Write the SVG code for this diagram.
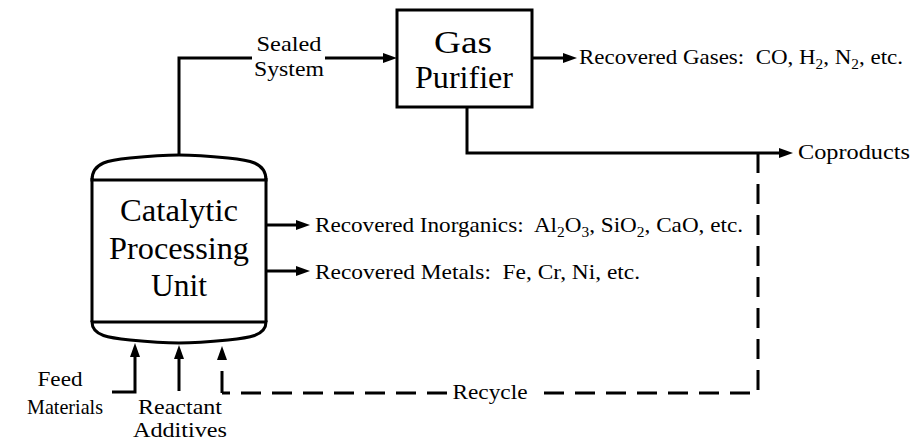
<svg xmlns="http://www.w3.org/2000/svg" width="912" height="442" viewBox="0 0 912 442">
<defs>
<style>
.ln{fill:none;stroke:#000;stroke-width:3}
.dash{fill:none;stroke:#000;stroke-width:3;stroke-dasharray:20 11}
.arr{marker-end:url(#ah)}
text{font-family:'Liberation Serif','DejaVu Serif','Times New Roman',serif;fill:#000}
.t{font-size:21px}
.big{font-size:31px;text-anchor:middle}
.sub{font-size:14px}
</style>
<marker id="ah" viewBox="0 0 14 10" refX="0" refY="5" markerWidth="14" markerHeight="10" markerUnits="userSpaceOnUse" orient="auto">
<path d="M0,0 L14,5 L0,10 z" fill="#000"/>
</marker>
</defs>
<rect width="912" height="442" fill="#fff"/>

<g id="connectors">
<path class="ln" d="M179,155 V58 H252"/>
<path class="ln arr" d="M325,58 H383"/>
<path class="ln arr" d="M532,58 H563"/>
<path class="ln arr" d="M467,107 V153 H779"/>
<path class="ln arr" d="M266,225 H296"/>
<path class="ln arr" d="M266,271 H296"/>
<path class="ln arr" d="M112,392 H135 V357"/>
<path class="ln arr" d="M179,391 V359"/>
<path class="dash" d="M758,153 V393 H533"/>
<path class="dash" d="M447,393 H222"/>
<path class="ln arr" d="M222,393 V360" style="stroke-dasharray:22 11"/>
</g>

<g id="catalytic-processing-unit">
<path class="ln" d="M92,180 C92,162 110,160 130,158 C150,156 165,155 179,155 C193,155 208,156 228,158 C248,160 266,162 266,180 Z"/>
<path class="ln" d="M92,178 V322 M266,178 V322"/>
<path class="ln" d="M92,322 C92,336 110,338 130,340 C150,342 165,343 179,343 C193,343 208,342 228,340 C248,338 266,336 266,322 Z"/>
<text class="big" x="179" y="221" textLength="118" lengthAdjust="spacingAndGlyphs">Catalytic</text>
<text class="big" x="179" y="259" textLength="140" lengthAdjust="spacingAndGlyphs">Processing</text>
<text class="big" x="179" y="296" textLength="56" lengthAdjust="spacingAndGlyphs">Unit</text>
</g>

<g id="gas-purifier">
<rect class="ln" x="397" y="10" width="135" height="97"/>
<text class="big" x="463" y="53" textLength="58" lengthAdjust="spacingAndGlyphs">Gas</text>
<text class="big" x="464" y="88" textLength="98" lengthAdjust="spacingAndGlyphs">Purifier</text>
</g>

<g id="sealed-system-label">
<text class="t" x="289" y="51" text-anchor="middle" textLength="65" lengthAdjust="spacingAndGlyphs">Sealed</text>
<text class="t" x="289" y="76" text-anchor="middle" textLength="70" lengthAdjust="spacingAndGlyphs">System</text>
</g>

<g id="recovered-gases">
<text class="t" x="579" y="64" xml:space="preserve" textLength="324" lengthAdjust="spacingAndGlyphs">Recovered Gases:  CO, H<tspan class="sub" dy="5">2</tspan><tspan dy="-5">, N</tspan><tspan class="sub" dy="5">2</tspan><tspan dy="-5">, etc.</tspan></text>
</g>

<g id="coproducts">
<text class="t" x="798" y="159" textLength="112" lengthAdjust="spacingAndGlyphs">Coproducts</text>
</g>

<g id="recovered-inorganics">
<text class="t" x="315" y="232" xml:space="preserve" textLength="428" lengthAdjust="spacingAndGlyphs">Recovered Inorganics:  Al<tspan class="sub" dy="5">2</tspan><tspan dy="-5">O</tspan><tspan class="sub" dy="5">3</tspan><tspan dy="-5">, SiO</tspan><tspan class="sub" dy="5">2</tspan><tspan dy="-5">, CaO, etc.</tspan></text>
</g>

<g id="recovered-metals">
<text class="t" x="315" y="279" xml:space="preserve" textLength="325" lengthAdjust="spacingAndGlyphs">Recovered Metals:  Fe, Cr, Ni, etc.</text>
</g>

<g id="feed-materials">
<text class="t" x="60" y="386" text-anchor="middle" textLength="45" lengthAdjust="spacingAndGlyphs">Feed</text>
<text class="t" x="65" y="414" text-anchor="middle" textLength="76" lengthAdjust="spacingAndGlyphs">Materials</text>
</g>

<g id="reactant-additives">
<text class="t" x="180" y="414" text-anchor="middle" font-size="20" textLength="84" lengthAdjust="spacingAndGlyphs">Reactant</text>
<text class="t" x="180" y="437" text-anchor="middle" font-size="20" textLength="94" lengthAdjust="spacingAndGlyphs">Additives</text>
</g>

<g id="recycle">
<text class="t" x="490" y="399" text-anchor="middle" textLength="75" lengthAdjust="spacingAndGlyphs">Recycle</text>
</g>
</svg>
